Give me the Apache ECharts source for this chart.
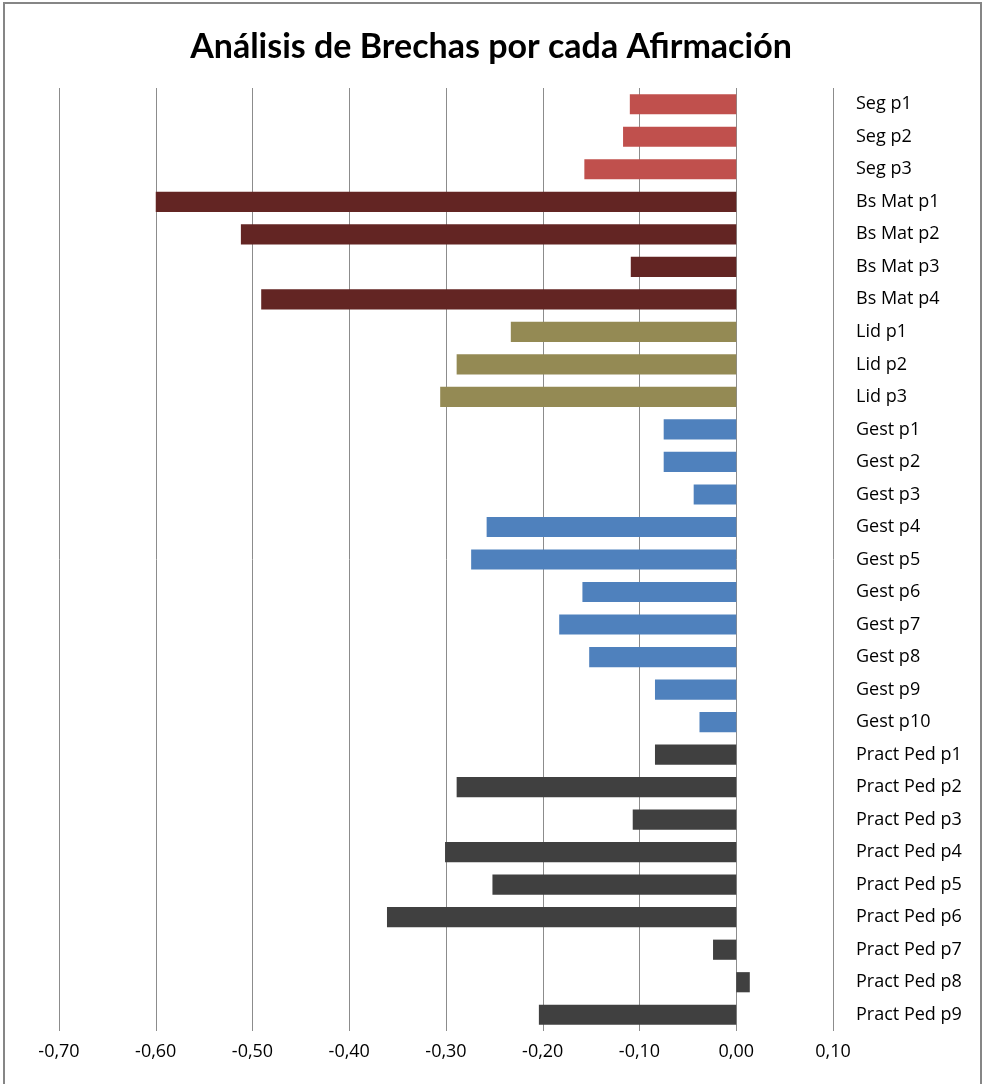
<!DOCTYPE html>
<html>
<head>
<meta charset="utf-8">
<script src="https://cdn.jsdelivr.net/npm/echarts@6/dist/echarts.min.js"></script>
<style>
  html, body { margin: 0; padding: 0; background: #fff; }
  #chart { width: 982px; height: 1084px; }
</style>
</head>
<body>
<div id="chart"></div>
<script>
// categories top to bottom
const categories = [
  'Seg p1', 'Seg p2', 'Seg p3',
  'Bs Mat p1', 'Bs Mat p2', 'Bs Mat p3', 'Bs Mat p4',
  'Lid p1', 'Lid p2', 'Lid p3',
  'Gest p1', 'Gest p2', 'Gest p3', 'Gest p4', 'Gest p5',
  'Gest p6', 'Gest p7', 'Gest p8', 'Gest p9', 'Gest p10',
  'Pract Ped p1', 'Pract Ped p2', 'Pract Ped p3', 'Pract Ped p4', 'Pract Ped p5',
  'Pract Ped p6', 'Pract Ped p7', 'Pract Ped p8', 'Pract Ped p9'
];
const gaps = [
  -0.11, -0.117, -0.157,
  -0.60, -0.512, -0.109, -0.491,
  -0.233, -0.289, -0.306,
  -0.075, -0.075, -0.044, -0.258, -0.274,
  -0.159, -0.183, -0.152, -0.084, -0.038,
  -0.084, -0.289, -0.107, -0.301, -0.252,
  -0.361, -0.024, 0.014, -0.204
];
const groups = [
  'Seg', 'Seg', 'Seg',
  'Bs', 'Bs', 'Bs', 'Bs',
  'Lid', 'Lid', 'Lid',
  'Gest', 'Gest', 'Gest', 'Gest', 'Gest', 'Gest', 'Gest', 'Gest', 'Gest', 'Gest',
  'Pract', 'Pract', 'Pract', 'Pract', 'Pract', 'Pract', 'Pract', 'Pract', 'Pract'
];
const groupColors = {
  Seg: '#C0504D',
  Bs: '#632523',
  Lid: '#948A54',
  Gest: '#4F81BD',
  Pract: '#404040'
};

const chart = echarts.init(document.getElementById('chart'));
const labelFont = '"Open Sans", Lato, sans-serif';

const option = {
  animation: false,
  title: {
    text: 'Análisis de Brechas por cada Afirmación',
    left: 'center',
    top: 25,
    textStyle: { fontFamily: 'Lato, sans-serif', fontSize: 34, fontWeight: 'bold', color: '#000' }
  },
  graphic: [{
    type: 'rect',
    shape: { x: 4, y: 3, width: 977, height: 1090 },
    style: { fill: 'none', stroke: '#868686', lineWidth: 2 },
    silent: true
  }],
  grid: { left: 59, right: 149, top: 88, bottom: 53, containLabel: false },
  xAxis: {
    type: 'value',
    min: -0.7,
    max: 0.1,
    interval: 0.1,
    axisLine: { show: false },
    axisTick: { show: false },
    splitLine: { show: true, lineStyle: { color: '#8c8c8c', width: 1 } },
    axisLabel: {
      fontFamily: labelFont, fontSize: 18, color: '#000', margin: 12,
      formatter: v => v.toFixed(2).replace('.', ',')
    }
  },
  yAxis: {
    type: 'category',
    data: categories,
    inverse: true,
    position: 'right',
    axisLine: { show: false },
    axisTick: { show: false },
    splitLine: { show: false },
    axisLabel: {
      fontFamily: labelFont, fontSize: 18, color: '#000', margin: 23, align: 'left',
      padding: [5, 0, 0, 0]
    }
  },
  series: [{
    type: 'bar',
    barCategoryGap: '38%',
    data: gaps.map((v, i) => ({
      value: v,
      itemStyle: { color: groupColors[groups[i]] }
    }))
  }]
};
chart.setOption(option);
</script>
</body>
</html>
